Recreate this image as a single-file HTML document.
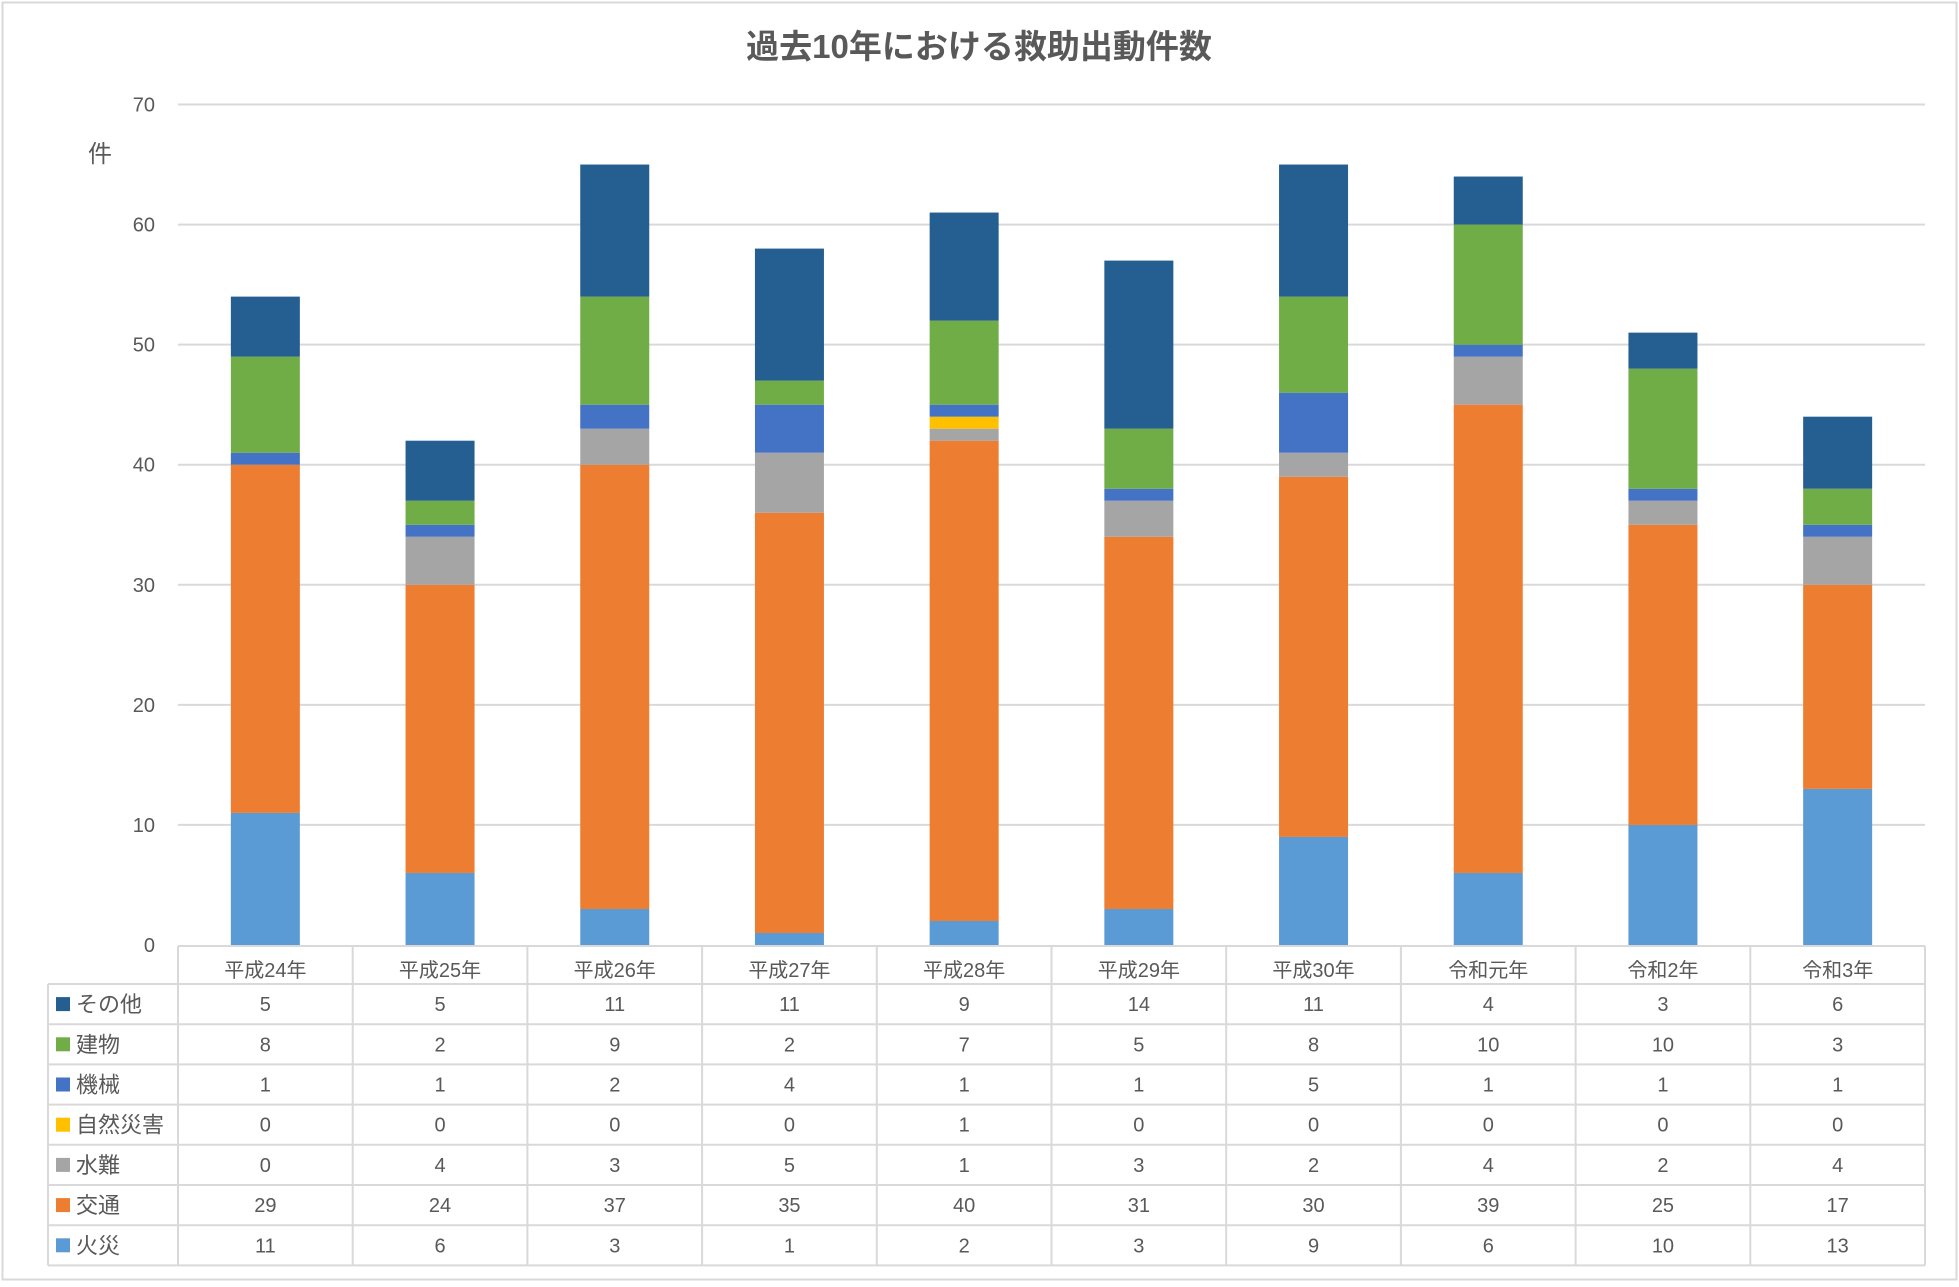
<!DOCTYPE html>
<html><head><meta charset="utf-8"><style>
body{margin:0;background:#fff}
svg text{font-family:"Liberation Sans","Noto Sans CJK JP",sans-serif;fill:#595959}
</style></head><body>
<svg id="c" width="1959" height="1282" xmlns="http://www.w3.org/2000/svg">
<rect x="2.5" y="2.5" width="1954" height="1277" fill="#fff" stroke="#d9d9d9" stroke-width="2"/>
<text x="979" y="58" text-anchor="middle" font-size="33" font-weight="bold">過去10年における救助出動件数</text>
<text x="100" y="162" text-anchor="middle" font-size="24">件</text>
<g id="grid"></g><g id="bars"></g><g id="table"></g>
</svg>
<script>
const categories=["平成24年","平成25年","平成26年","平成27年","平成28年","平成29年","平成30年","令和元年","令和2年","令和3年"];
const seriesNames=["火災","交通","水難","自然災害","機械","建物","その他"];
const fire=[11,6,3,1,2,3,9,6,10,13];
const traffic=[29,24,37,35,40,31,30,39,25,17];
const water=[0,4,3,5,1,3,2,4,2,4];
const disaster=[0,0,0,0,1,0,0,0,0,0];
const machine=[1,1,2,4,1,1,5,1,1,1];
const building=[8,2,9,2,7,5,8,10,10,3];
const other=[5,5,11,11,9,14,11,4,3,6];
const yTicks=[0,10,20,30,40,50,60,70];
const series=[fire,traffic,water,disaster,machine,building,other];
const colors=["#5b9bd5","#ed7d31","#a5a5a5","#ffc000","#4472c4","#70ad47","#255e91"];
const NS="http://www.w3.org/2000/svg";
const X0=178,X1=1925,Y0=945,Y70=104.5,colW=(X1-X0)/categories.length,barW=69;
const y=v=>Y0-(Y0-Y70)*v/70;
const x=i=>X0+colW*i+colW/2;
function mk(tag,attrs,parent,txt){const e=document.createElementNS(NS,tag);for(const k in attrs)e.setAttribute(k,attrs[k]);if(txt!==undefined)e.textContent=txt;parent.appendChild(e);return e;}
const grid=document.getElementById('grid'),bars=document.getElementById('bars'),table=document.getElementById('table');
yTicks.forEach(t=>{
  if(t>0){const l=mk('line',{x1:X0,x2:X1,y1:y(t),y2:y(t),stroke:'#d9d9d9','stroke-width':2},grid);
  
  }
  const tx=mk('text',{x:155,y:y(t)+7,'text-anchor':'end','font-size':20},grid,String(t));
  
  
});
categories.forEach((c,i)=>{
  let acc=0;
  series.forEach((s,k)=>{
    const v=s[i];if(v<=0)return;
    const r=mk('rect',{x:x(i)-barW/2,y:y(acc+v),width:barW,height:y(acc)-y(acc+v),fill:colors[k]},bars);
    
    
    acc+=v;
  });
});
// table
const TH=946,HB=984,RH=40.2,TL=48,rows=[6,5,4,3,2,1,0];
const lc='#d9d9d9';
mk('line',{x1:X0,x2:X1,y1:TH,y2:TH,stroke:lc,'stroke-width':2},table);
mk('line',{x1:TL,x2:X1,y1:HB,y2:HB,stroke:lc,'stroke-width':2},table);
rows.forEach((k,r)=>{const yb=HB+RH*(r+1);mk('line',{x1:TL,x2:X1,y1:yb,y2:yb,stroke:lc,'stroke-width':2},table);});
const TB=HB+RH*7;
mk('line',{x1:TL,x2:TL,y1:HB,y2:TB,stroke:lc,'stroke-width':2},table);
for(let i=0;i<=categories.length;i++){mk('line',{x1:X0+colW*i,x2:X0+colW*i,y1:TH,y2:TB,stroke:lc,'stroke-width':2},table);}
categories.forEach((c,i)=>{
  const t=mk('text',{x:x(i),y:TH+31,'text-anchor':'middle','font-size':20},table,c);
  
  
});
rows.forEach((k,r)=>{
  const cy=HB+RH*r+RH/2;
  const sw=mk('rect',{x:56,y:cy-7,width:14,height:14,fill:colors[k]},table);
  
  
  const lt=mk('text',{x:76,y:cy+8,'font-size':22},table,seriesNames[k]);
  
  
  series[k].forEach((v,i)=>{
    const t=mk('text',{x:x(i),y:cy+7,'text-anchor':'middle','font-size':20},table,String(v));
    
    
  });
});
</script>
</body></html>
